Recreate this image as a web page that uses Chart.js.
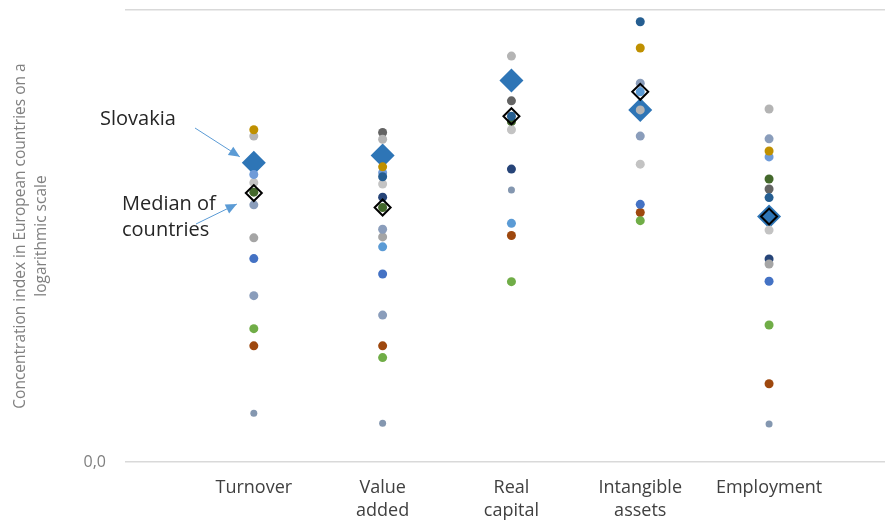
<!DOCTYPE html>
<html>
<head>
<meta charset="utf-8">
<script src="https://cdn.jsdelivr.net/npm/chart.js@4"></script>
<style>
  html, body { margin: 0; padding: 0; background: #fff; }
  #wrap { width: 887px; height: 521px; }
</style>
</head>
<body>
<div id="wrap"><canvas id="myChart" width="887" height="521"></canvas></div>
<script>
// categories on the x axis (positions 1..5)
const categories = ["Turnover", ["Value", "added"], ["Real", "capital"], ["Intangible", "assets"], "Employment"];
const yTickLabel = "0,0";

// index values (0 = axis, 100 = top gridline)
const slovakia = [66.2, 67.8, 84.4, 77.9, 54.3];
const median   = [59.5, 56.3, 76.5, 81.9, 54.3];

const goldC     = [73.5, 65.3, null, 91.6, 68.8];
const lgrayA    = [72.1, 71.4, 89.8, 77.9, 78.1];
const cornflow  = [63.6, 64.0, null, null, 67.5];
const lgrayB    = [61.8, 61.5, 73.5, 65.9, 51.3];
const dkgreen   = [59.7, 56.3, 75.3, null, 62.6];
const slate     = [56.9, 51.5, null, 83.8, 71.5];
const grayC     = [49.6, 49.8, null, null, 43.8];
const blueC     = [45.0, 41.6, null, 57.0, 40.0];
const slate2    = [36.8, 32.5, null, 72.1, null];
const greenC    = [29.5, 23.1, 39.9, 53.4, 30.3];
const brownC    = [25.7, 25.7, 50.1, 55.2, 17.3];
const smallSl   = [10.8, 8.6, 60.2, null, 8.4];
const dkgray    = [null, 72.9, 79.9, null, 60.4];
const navyC     = [null, 58.6, 64.8, null, 44.9];
const ltblue    = [null, 47.6, 52.8, 81.9, null];
const dkblue    = [null, 63.1, 76.5, 97.4, 58.5];

const countries = [
  [dkblue, "#255e91", 4.5], [ltblue, "#5b9bd5", 4.5],
  [goldC, "#bf9000", 4.5], [lgrayA, "#b4b4b4", 4.5], [cornflow, "#6f9bd8", 4.5],
  [lgrayB, "#c3c3c3", 4.5], [dkgreen, "#43682b", 4.5], [slate, "#8a9dbb", 4.5],
  [grayC, "#a5a5a5", 4.5], [blueC, "#4472c4", 4.5], [slate2, "#8a9dbb", 4.5],
  [greenC, "#70ad47", 4.5], [brownC, "#9e480e", 4.5], [smallSl, "#8497b0", 3.5],
  [dkgray, "#636363", 4.5], [navyC, "#264478", 4.5]
];

const toPts = (arr) => arr.map((v, i) => ({ x: i + 1, y: v })).filter(p => p.y !== null);

let datasets = [];
datasets.push({
  label: "Median of countries", data: toPts(median), order: 0,
  pointStyle: "rectRot", pointRadius: 8, backgroundColor: "rgba(0,0,0,0)",
  borderColor: "#000", pointBorderWidth: 2
});
countries.forEach((c, i) => {
  datasets.push({
    label: "c" + i, data: toPts(c[0]), order: 1,
    pointStyle: "circle", pointRadius: c[2], backgroundColor: c[1], borderWidth: 0, pointBorderWidth: 0
  });
});
datasets.push({
  label: "Slovakia", data: toPts(slovakia), order: 2,
  pointStyle: "rectRot", pointRadius: 12, backgroundColor: "#2e75b6", borderWidth: 0, pointBorderWidth: 0
});

// callouts with arrows
const callouts = {
  id: "callouts",
  afterDraw(chart) {
    const c = chart.ctx, xs = chart.scales.x, ys = chart.scales.y;
    const skX = xs.getPixelForValue(1), skY = ys.getPixelForValue(slovakia[0]);
    const mdX = xs.getPixelForValue(1), mdY = ys.getPixelForValue(median[0]);
    c.save();
    c.fillStyle = "#262626";
    c.font = "20px 'Open Sans'";
    c.textBaseline = "middle";
    c.fillText("Slovakia", 100, 119);
    c.fillText("Median of", 122, 204);
    c.fillText("countries", 122, 230);
    const arrow = (x1, y1, x2, y2) => {
      c.strokeStyle = "#5b9bd5"; c.fillStyle = "#5b9bd5"; c.lineWidth = 1;
      c.beginPath(); c.moveTo(x1, y1); c.lineTo(x2, y2); c.stroke();
      const a = Math.atan2(y2 - y1, x2 - x1), L = 11, W = 5;
      c.beginPath();
      c.moveTo(x2, y2);
      c.lineTo(x2 - L * Math.cos(a) + W * Math.sin(a), y2 - L * Math.sin(a) - W * Math.cos(a));
      c.lineTo(x2 - L * Math.cos(a) - W * Math.sin(a), y2 - L * Math.sin(a) + W * Math.cos(a));
      c.closePath(); c.fill();
    };
    arrow(195, 128, skX - 14, skY - 6);
    arrow(196, 224, mdX - 17, mdY + 11);
    c.restore();
  }
};

new Chart(document.getElementById("myChart"), {
  type: "scatter",
  data: { datasets: datasets },
  plugins: [callouts],
  options: {
    responsive: false,
    animation: false,
    layout: { autoPadding: false, padding: { top: 10, right: 2, left: 0, bottom: 0 } },
    plugins: { legend: { display: false }, tooltip: { enabled: false } },
    scales: {
      x: {
        type: "linear", min: 0, max: 5.9,
        grid: { display: false },
        border: { display: false },
        afterFit: (s) => { s.height = 59; s.paddingLeft = 0; s.paddingRight = 0; },
        afterBuildTicks: (s) => { s.ticks = [1, 2, 3, 4, 5].map(v => ({ value: v })); },
        ticks: {
          autoSkip: false, maxRotation: 0, padding: 7,
          color: "#404040", font: { family: "'Open Sans'", size: 18, lineHeight: 1.25 },
          callback: (v) => categories[v - 1]
        }
      },
      y: {
        min: 0, max: 100,
        afterFit: (s) => { s.width = 125; s.paddingTop = 0; s.paddingBottom = 0; },
        afterBuildTicks: (s) => { s.ticks = [{ value: 0 }, { value: 100 }]; },
        grid: { color: "#d9d9d9", lineWidth: 1.5, drawTicks: false },
        border: { display: false },
        ticks: {
          padding: 19, color: "#7f7f7f", font: { family: "'Open Sans'", size: 16 },
          callback: (v) => v === 0 ? yTickLabel : ""
        },
        title: {
          display: true,
          text: ["Concentration index in European countries on a", "logarithmic scale"],
          color: "#808080", font: { family: "'Open Sans'", size: 15.5, lineHeight: 1.3 },
          padding: { top: 11, bottom: 0 }
        }
      }
    }
  }
});
</script>
</body>
</html>
